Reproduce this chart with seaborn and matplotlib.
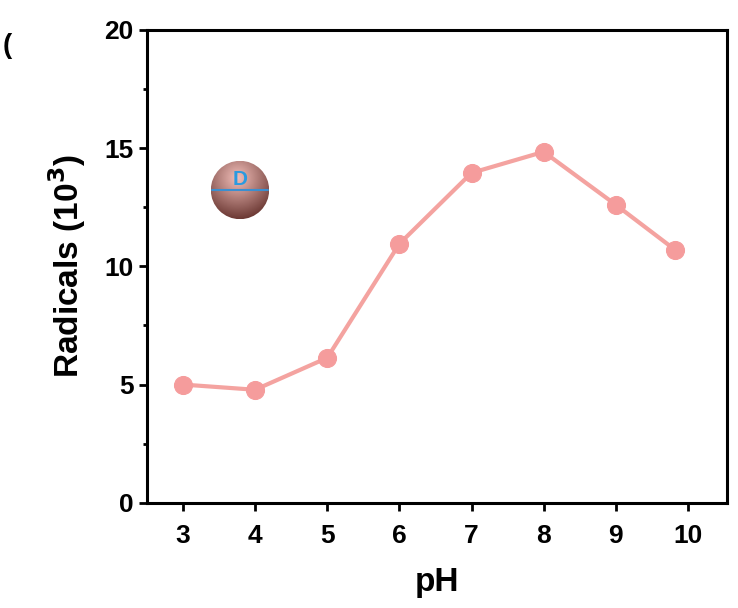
import numpy as np
import matplotlib
matplotlib.use("Agg")
import matplotlib.pyplot as plt
import seaborn as sns
from matplotlib.patches import Circle

ph = [3, 4, 5, 6, 7, 8, 9, 9.82]
radicals = [5.0, 4.78, 6.13, 10.95, 13.95, 14.84, 12.6, 10.7]

sns.set_style("ticks")
plt.rcParams["font.family"] = "Liberation Sans"
plt.rcParams["font.weight"] = "bold"
plt.rcParams["text.color"] = "black"
plt.rcParams["axes.labelcolor"] = "black"
plt.rcParams["xtick.color"] = "black"
plt.rcParams["ytick.color"] = "black"
plt.rcParams["axes.edgecolor"] = "black"

fig = plt.figure(figsize=(7.38, 6.08), dpi=100)
ax = fig.add_axes([0.199, 0.173, 0.786, 0.778])
sns.lineplot(x=ph, y=radicals, ax=ax, color="#F4A3A0", linewidth=3,
             marker="o", markersize=13, markerfacecolor="#F59C9C",
             markeredgecolor="#F59C9C")

ax.set_xlim(2.5, 10.54)
ax.set_ylim(0, 20)
ax.set_xticks(range(3, 11))
ax.set_yticks([0, 5, 10, 15, 20])
ax.set_yticks(np.arange(2.5, 20, 5), minor=True)
ax.tick_params(axis="both", which="major", labelsize=19, width=2, length=6)
ax.tick_params(axis="x", pad=9)
ax.tick_params(axis="y", which="minor", width=2, length=3)
for lab in ax.get_xticklabels() + ax.get_yticklabels():
    lab.set_fontweight("bold")
for s in ax.spines.values():
    s.set_visible(True)
    s.set_linewidth(2.2)
ax.set_xlabel("pH", fontsize=24, fontweight="bold", labelpad=14)
ax.set_ylabel("Radicals (10$^\\mathbf{3}$)", fontsize=24, fontweight="bold", labelpad=12)

# small sphere icon
iax = fig.add_axes([240/738 - 0.04, 1 - 190/608 - 0.048, 0.08, 0.096])
iax.set_xlim(-1, 1)
iax.set_ylim(-1, 1)
iax.axis("off")
yy, xx = np.mgrid[-1:1:200j, -1:1:200j]
shade = np.clip(1 - np.sqrt((xx + 0.1)**2 + (yy + 0.4)**2) / 1.6, 0, 1)
img = np.zeros((200, 200, 3))
img[..., 0] = 0.35 + 0.6 * shade
img[..., 1] = 0.15 + 0.6 * shade
img[..., 2] = 0.13 + 0.6 * shade
im = iax.imshow(img, extent=(-1, 1, -1, 1), origin="upper")
circ = Circle((0, 0), 1, transform=iax.transData)
im.set_clip_path(circ)
iax.plot([-0.95, 0.95], [0, 0], color="#3A8FD0", linewidth=1.5)
iax.text(0, 0.05, "D", color="#2A9AE0", fontsize=15, fontweight="bold",
         ha="center", va="bottom")

fig.text(0.003, 0.925, "(", fontsize=20, ha="left", va="center")

fig.savefig("out.png", dpi=100)
